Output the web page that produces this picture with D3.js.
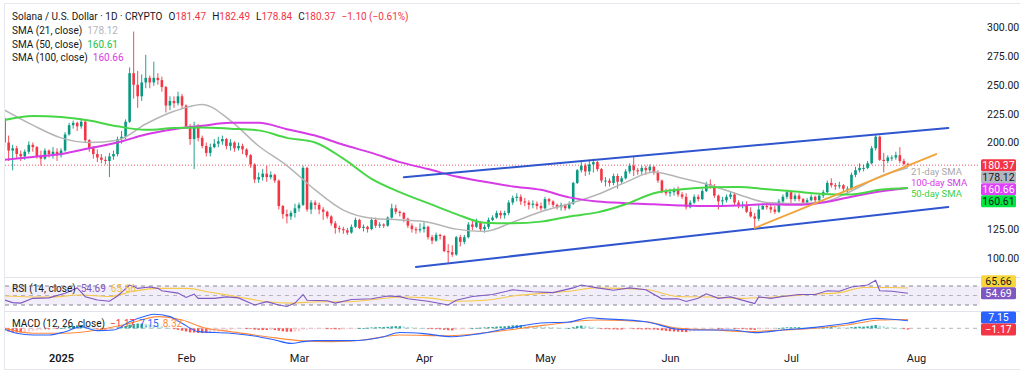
<!DOCTYPE html>
<html>
<head>
<meta charset="utf-8">
<script src="https://cdn.jsdelivr.net/npm/d3@7"></script>
<style>
body { margin: 0; background: #fff; }
svg { display: block; font-family: Roboto, "Noto Sans", sans-serif; }
</style>
</head>
<body>
<div id="chart-area"></div>
<script>
// daily SOL/USD candles, 18 Dec 2024 - 30 Jul 2025 (crypto trades 24/7, so each open is the prior close)
var firstOpen = 221;

var decClose = [200, 193, 195, 190, 188, 192, 198, 196, 188, 186, 193, 190, 192, 189];
var decHigh  = [223, 206, 198, 197, 193, 194, 201, 200, 197, 193, 195, 194, 196, 195];
var decLow   = [196, 184, 176, 186, 184, 185, 190, 192, 186, 180, 185, 187, 186, 184];

var janClose = [193, 207, 215, 217, 214, 218, 202, 195, 190, 187, 185, 184, 188, 190, 203, 205, 218, 260, 250, 240, 252, 256, 252, 256, 254, 248, 232, 236, 234, 240, 232];
var janHigh  = [195, 209, 217, 219, 218, 221, 219, 203, 197, 194, 190, 188, 191, 193, 205, 210, 220, 265, 296, 262, 259, 276, 258, 270, 260, 257, 249, 240, 240, 244, 242];
var janLow   = [187, 192, 206, 212, 210, 212, 200, 192, 186, 183, 182, 181, 170, 185, 188, 199, 203, 217, 238, 230, 236, 247, 247, 249, 250, 244, 226, 228, 230, 232, 229];

var febClose = [214, 203, 214, 204, 197, 191, 196, 199, 201, 203, 197, 200, 195, 197, 194, 189, 181, 168, 170, 173, 170, 172, 167, 145, 138, 136, 139, 143];
var febHigh  = [233, 216, 218, 216, 206, 200, 199, 203, 205, 206, 204, 203, 201, 200, 199, 195, 190, 182, 174, 177, 180, 175, 173, 168, 146, 142, 141, 147];
var febLow   = [212, 198, 177, 201, 195, 188, 188, 195, 196, 198, 194, 193, 192, 193, 190, 187, 178, 165, 165, 167, 166, 168, 165, 142, 134, 130, 133, 135];

var marClose = [146, 178, 142, 148, 146, 142, 140, 136, 130, 126, 125, 124, 122, 127, 133, 126, 127, 125, 133, 128, 129, 128, 135, 143, 140, 139, 134, 128, 125, 124, 125];
var marHigh  = [148, 180, 179, 150, 150, 148, 144, 141, 137, 132, 128, 127, 126, 129, 135, 134, 129, 128, 135, 135, 131, 130, 136, 147, 146, 141, 140, 135, 130, 127, 130];
var marLow   = [140, 145, 140, 138, 142, 138, 133, 134, 128, 121, 122, 121, 120, 121, 126, 125, 123, 122, 124, 126, 126, 126, 127, 134, 138, 136, 131, 126, 122, 121, 122];

var aprClose = [127, 118, 115, 120, 119, 106, 105, 103, 118, 114, 118, 129, 127, 131, 125, 127, 133, 135, 139, 137, 139, 148, 152, 153, 149, 148, 146, 147, 145, 143];
var aprHigh  = [131, 128, 120, 122, 121, 120, 112, 111, 119, 120, 120, 131, 133, 134, 132, 129, 135, 137, 141, 141, 141, 150, 154, 156, 155, 152, 150, 150, 149, 148];
var aprLow   = [122, 116, 112, 114, 116, 105, 96, 101, 102, 110, 112, 117, 124, 126, 123, 122, 125, 132, 134, 134, 134, 137, 146, 149, 146, 145, 142, 143, 142, 141];

var mayClose = [151, 149, 146, 144, 146, 143, 147, 165, 176, 180, 175, 181, 183, 177, 167, 167, 165, 171, 166, 169, 175, 180, 176, 175, 178, 176, 179, 174, 167, 158, 156];
var mayHigh  = [153, 152, 150, 147, 148, 147, 149, 166, 177, 184, 182, 185, 186, 184, 178, 170, 169, 173, 173, 171, 177, 182, 188, 178, 180, 180, 181, 180, 176, 168, 160];
var mayLow   = [142, 146, 144, 142, 141, 141, 142, 146, 164, 174, 171, 172, 174, 175, 165, 162, 162, 163, 160, 164, 168, 173, 171, 172, 172, 172, 174, 172, 165, 156, 154];

var junClose = [157, 159, 155, 153, 144, 148, 153, 151, 158, 164, 162, 154, 149, 150, 153, 155, 148, 146, 146, 140, 136, 134, 142, 145, 144, 142, 140, 149, 153, 157];
var junHigh  = [160, 161, 162, 157, 156, 150, 155, 155, 160, 166, 168, 164, 155, 153, 155, 158, 157, 150, 149, 149, 144, 139, 146, 147, 148, 147, 145, 151, 155, 159];
var junLow   = [153, 154, 153, 151, 142, 143, 147, 149, 150, 157, 160, 152, 142, 145, 148, 151, 146, 143, 143, 139, 135, 126, 132, 142, 142, 139, 138, 139, 147, 151];

var julClose = [151, 154, 151, 148, 150, 153, 150, 154, 157, 165, 163, 162, 163, 160, 160, 172, 176, 178, 178, 182, 195, 205, 185, 184, 187, 187, 189, 184, 181.47, 180.37];
var julHigh  = [158, 156, 156, 152, 152, 155, 154, 155, 159, 167, 169, 165, 166, 164, 162, 174, 179, 182, 181, 184, 197, 206.5, 206, 191, 189, 189, 192, 196, 186, 182.49];
var julLow   = [146, 149, 149, 146, 147, 149, 148, 148, 152, 156, 161, 159, 160, 158, 155, 159, 170, 174, 175, 177, 181, 193, 184, 174, 182, 184, 185, 182, 180, 178.84];

// MACD histogram, one bar per day
var decHist = [-2, -3, -3.5, -4, -4, -3.5, -3, -2.5, -2, -1.5, -1, -1, -0.5, -0.5];
var janHist = [0.2, 0.8, 1.5, 2.2, 2.8, 3.2, 2.5, 1.5, 0.5, -0.5, -1, -1.3, -1.2, -0.5, 0.8, 1.5, 2.2, 3.5, 4.2, 4.5, 4.5, 4.3, 3.8, 3.2, 2.5, 1.8, 0.8, 0, -0.8, -1.5, -2.2];
var febHist = [-3, -3.8, -4, -4.3, -4.5, -4.5, -4.3, -3.8, -3.2, -2.6, -2, -1.5, -1, -0.6, -0.3, -0.3, -0.6, -1.2, -1.5, -1.6, -1.6, -1.5, -1.6, -2.2, -2.8, -3.2, -3.2, -3];
var marHist = [-2.8, -1.5, -1.2, -0.8, -0.5, -0.3, -0.2, -0.3, -0.6, -0.9, -1, -0.9, -0.8, -0.5, -0.2, 0.1, 0.3, 0.5, 0.8, 1, 1.1, 1.2, 1.4, 1.8, 2, 2, 1.8, 1.4, 0.9, 0.6, 0.3];
var aprHist = [0.1, -0.3, -0.7, -0.9, -1, -1.4, -1.8, -2, -1.6, -1.3, -1, -0.5, 0, 0.4, 0.6, 0.8, 1.1, 1.3, 1.6, 1.8, 1.9, 2.3, 2.8, 3, 3, 2.8, 2.5, 2.2, 1.9, 1.6];
var mayHist = [1.4, 1.2, 1, 0.7, 0.5, 0.3, 0.3, 1, 2, 2.5, 2.3, 1.8, 1, 0.5, -0.2, -0.6, -0.9, -1, -1.2, -1.2, -1, -0.8, -0.8, -0.9, -1, -1, -1, -1.2, -1.5, -2, -2.4];
var junHist = [-2.8, -3, -3.2, -3.4, -3.6, -3.2, -2.8, -2.4, -1.8, -1.1, -0.6, -0.5, -0.7, -0.9, -0.8, -0.6, -0.6, -0.7, -0.8, -1, -1.3, -1.5, -1, -0.6, -0.3, -0.2, -0.1, 0.3, 0.6, 0.9];
var julHist = [0.9, 1, 1, 0.8, 0.7, 0.7, 0.6, 0.6, 0.7, 1.1, 1.3, 1.2, 1.1, 0.9, 0.8, 1.1, 1.4, 1.6, 1.6, 1.9, 2.5, 3.1, 2.6, 2, 1.4, 0.9, 0.6, 0, -0.6, -1.17];

// moving averages
var smaDates = ["2024-12-18", "2024-12-25", "2025-01-01", "2025-01-08", "2025-01-15", "2025-01-22", "2025-01-29",
  "2025-02-05", "2025-02-12", "2025-02-19", "2025-02-26", "2025-03-05", "2025-03-12", "2025-03-19", "2025-03-26",
  "2025-04-02", "2025-04-09", "2025-04-16", "2025-04-23", "2025-04-30", "2025-05-07", "2025-05-14", "2025-05-21",
  "2025-05-28", "2025-06-04", "2025-06-11", "2025-06-18", "2025-06-25", "2025-07-02", "2025-07-09", "2025-07-16",
  "2025-07-23", "2025-07-30"];
var sma21 = [228, 215, 204, 200, 202, 216, 227, 233, 219, 197, 180, 159, 141.5, 134.5, 133, 131, 125, 123, 131, 140,
  147, 155, 165.5, 174.5, 169, 163, 155, 148, 147, 148.5, 158, 170.5, 178.12];
var sma50 = [219.5, 223, 222, 219, 214, 211, 212.5, 213, 212, 210.5, 204, 200, 186, 168.5, 157, 147.5, 138, 130.5,
  130, 131.5, 136, 139.5, 146.5, 156, 159.5, 161.2, 161.5, 159.5, 157.5, 155.5, 155, 159, 160.61];
var sma100 = [185, 187.5, 190, 195, 200, 207, 211.5, 214.5, 217, 217, 211.5, 206, 198, 191, 183, 177, 170.5, 166,
  162, 159, 152.5, 149, 147.5, 146.5, 145.5, 145, 145.5, 146.5, 146, 148, 153, 157.5, 160.66];

// RSI (14) and its moving average
var rsiDates = ["2024-12-18", "2024-12-20", "2024-12-22", "2024-12-25", "2024-12-29", "2025-01-02", "2025-01-05",
  "2025-01-07", "2025-01-10", "2025-01-13", "2025-01-15", "2025-01-18", "2025-01-19", "2025-01-20", "2025-01-23",
  "2025-01-25", "2025-01-26", "2025-01-30", "2025-02-01", "2025-02-03", "2025-02-04", "2025-02-08", "2025-02-11",
  "2025-02-14", "2025-02-18", "2025-02-21", "2025-02-24", "2025-02-26", "2025-02-28", "2025-03-02", "2025-03-03",
  "2025-03-08", "2025-03-10", "2025-03-14", "2025-03-19", "2025-03-23", "2025-03-26", "2025-03-28", "2025-04-02",
  "2025-04-07", "2025-04-09", "2025-04-13", "2025-04-18", "2025-04-23", "2025-04-28", "2025-05-03", "2025-05-08",
  "2025-05-10", "2025-05-14", "2025-05-18", "2025-05-22", "2025-05-26", "2025-05-30", "2025-06-03", "2025-06-05",
  "2025-06-08", "2025-06-10", "2025-06-13", "2025-06-16", "2025-06-22", "2025-06-23", "2025-06-26", "2025-06-29",
  "2025-07-03", "2025-07-07", "2025-07-10", "2025-07-13", "2025-07-16", "2025-07-20", "2025-07-22", "2025-07-23",
  "2025-07-26", "2025-07-30"];
var rsiValues = [40.5, 35, 34, 44, 45, 54.6, 65.8, 47.5, 40.5, 38, 49, 72, 69, 65, 68, 65, 60, 55, 46, 53, 44, 44,
  47, 45, 30, 37, 30, 27, 34, 52, 40, 39, 34, 41.5, 43, 49, 47.6, 43, 38, 30, 40, 48, 52, 62, 58, 56, 66, 72, 66,
  61, 66, 62, 43, 43, 37.5, 44, 53.5, 44, 47, 33, 47, 44, 48, 52, 52, 60, 59, 68, 72, 82, 60, 59, 54.69];
var rsiMaDates = ["2024-12-18", "2024-12-29", "2025-01-06", "2025-01-13", "2025-01-19", "2025-01-25", "2025-02-01",
  "2025-02-07", "2025-02-14", "2025-02-21", "2025-02-27", "2025-03-06", "2025-03-13", "2025-03-19", "2025-03-26",
  "2025-04-02", "2025-04-09", "2025-04-16", "2025-04-24", "2025-05-01", "2025-05-08", "2025-05-13", "2025-05-26",
  "2025-06-03", "2025-06-11", "2025-06-19", "2025-06-27", "2025-07-05", "2025-07-13", "2025-07-19", "2025-07-26",
  "2025-07-30"];
var rsiMaValues = [49, 46.5, 51, 48, 59, 65, 65, 57, 47, 37, 34, 37, 37, 41, 47, 45, 38, 40, 50, 55, 60, 66, 62.5,
  48, 47, 44, 47, 52, 56, 67, 67, 65.66];
var rsiLevels = [70, 50, 30];

// MACD (12, 26) and signal
var macdDates = ["2024-12-18", "2024-12-21", "2024-12-25", "2024-12-29", "2025-01-02", "2025-01-06", "2025-01-10",
  "2025-01-14", "2025-01-18", "2025-01-22", "2025-01-24", "2025-01-28", "2025-01-31", "2025-02-04", "2025-02-12",
  "2025-02-19", "2025-02-23", "2025-02-27", "2025-03-02", "2025-03-05", "2025-03-14", "2025-03-22", "2025-03-26",
  "2025-04-01", "2025-04-08", "2025-04-15", "2025-04-22", "2025-04-30", "2025-05-07", "2025-05-12", "2025-05-14",
  "2025-05-26", "2025-06-03", "2025-06-07", "2025-06-16", "2025-06-22", "2025-06-29", "2025-07-07", "2025-07-15",
  "2025-07-22", "2025-07-26", "2025-07-30"];
var macdValues = [-1, -4.7, -6.3, -6.3, -3.2, 1.5, -2.2, -1.6, 6.2, 11.6, 13.2, 11, 4.7, -3.1, -4.7, -7.9, -11,
  -14.2, -12.6, -11.6, -11.6, -7.9, -4, -5, -8, -5, 0, 5, 6, 10, 9.4, 6.2, -0.9, -1.6, -1.6, -4.1, -1.6, 0.9, 4.7,
  9.4, 8.5, 7.15];
var signalDates = ["2024-12-18", "2024-12-25", "2025-01-02", "2025-01-10", "2025-01-18", "2025-01-25", "2025-01-31",
  "2025-02-06", "2025-02-12", "2025-02-21", "2025-03-01", "2025-03-09", "2025-03-17", "2025-03-26", "2025-04-07",
  "2025-04-19", "2025-05-01", "2025-05-14", "2025-05-26", "2025-06-03", "2025-06-12", "2025-06-20", "2025-06-29",
  "2025-07-07", "2025-07-15", "2025-07-23", "2025-07-30"];
var signalValues = [0, -4.7, -4.7, -1.6, 4.7, 11, 7.8, 0, -3.1, -7.9, -11.6, -12.6, -11, -6.3, -7, -3, 3, 7.8, 6.2,
  0, -1.6, -3.1, -1.6, 0, 3.1, 7.8, 8.32];

// drawn trend lines: [start date, start price, end date, end price]
var channelTop = ["2025-03-27", 170, "2025-08-09", 212.6];
var channelBottom = ["2025-03-30", 92.2, "2025-08-09", 144.2];
var supportLine = ["2025-06-22", 126, "2025-08-06", 190];

var priceTicks = [100, 125, 200, 225, 250, 275, 300];
var monthTicks = ["2025-01-01", "2025-02-01", "2025-03-01", "2025-04-01", "2025-05-01", "2025-06-01", "2025-07-01", "2025-08-01"];
var monthLabels = ["2025", "Feb", "Mar", "Apr", "May", "Jun", "Jul", "Aug"];

var months = [
  {start: "2024-12-18", close: decClose, high: decHigh, low: decLow, hist: decHist},
  {start: "2025-01-01", close: janClose, high: janHigh, low: janLow, hist: janHist},
  {start: "2025-02-01", close: febClose, high: febHigh, low: febLow, hist: febHist},
  {start: "2025-03-01", close: marClose, high: marHigh, low: marLow, hist: marHist},
  {start: "2025-04-01", close: aprClose, high: aprHigh, low: aprLow, hist: aprHist},
  {start: "2025-05-01", close: mayClose, high: mayHigh, low: mayLow, hist: mayHist},
  {start: "2025-06-01", close: junClose, high: junHigh, low: junLow, hist: junHist},
  {start: "2025-07-01", close: julClose, high: julHigh, low: julLow, hist: julHist}
];

var parse = function(s) { return new Date(s + "T00:00:00Z"); };

var candles = [];
var prev = firstOpen;
months.forEach(function(m) {
  var d0 = parse(m.start);
  m.close.forEach(function(c, i) {
    candles.push({
      date: new Date(d0.getTime() + i * 864e5),
      open: prev,
      high: Math.max(m.high[i], prev, c),
      low: Math.min(m.low[i], prev, c),
      close: c,
      hist: m.hist[i]
    });
    prev = c;
  });
});
var last = candles[candles.length - 1];
var prevClose = candles[candles.length - 2].close;

var toPoints = function(dates, values) {
  return dates.map(function(d, i) { return {date: parse(d), value: values[i]}; });
};

var svg = d3.select("#chart-area")
  .append("svg")
  .attr("width", 1024)
  .attr("height", 377);

var upColor = "#089981";
var downColor = "#f23645";
var textColor = "#131722";
var labelSize = "10px";

var x = d3.scaleUtc()
  .domain([parse("2024-12-18"), parse("2025-08-01")])
  .range([4.6, 916]);
var y = d3.scaleLinear().domain([100, 300]).range([258, 27]);
var yRsi = d3.scaleLinear().domain([30, 70]).range([305, 286]);
var yMacd = d3.scaleLinear().domain([0, 10]).range([328.3, 317.7]);

// frame and pane separators
svg.append("line").attr("x1", 4).attr("x2", 1020).attr("y1", 3.5).attr("y2", 3.5).attr("stroke", "#e6e8ee");
svg.append("line").attr("x1", 4).attr("x2", 1020).attr("y1", 369.5).attr("y2", 369.5).attr("stroke", "#e6e8ee");
svg.append("line").attr("x1", 4.5).attr("x2", 4.5).attr("y1", 3).attr("y2", 370).attr("stroke", "#e6e8ee");
[277.5, 311.5].forEach(function(py) {
  svg.append("line").attr("x1", 4).attr("x2", 1020).attr("y1", py).attr("y2", py).attr("stroke", "#e0e3eb");
});

svg.append("clipPath").attr("id", "main-clip")
  .append("rect").attr("x", 5).attr("y", 4).attr("width", 975).attr("height", 273);
svg.append("clipPath").attr("id", "rsi-clip")
  .append("rect").attr("x", 5).attr("y", 278).attr("width", 975).attr("height", 33);
svg.append("clipPath").attr("id", "macd-clip")
  .append("rect").attr("x", 5).attr("y", 312).attr("width", 975).attr("height", 36);

var main = svg.append("g").attr("clip-path", "url(#main-clip)");

// last price dotted line
main.append("line")
  .attr("x1", 5).attr("x2", 980)
  .attr("y1", y(last.close)).attr("y2", y(last.close))
  .attr("stroke", downColor).attr("stroke-width", 1)
  .attr("stroke-dasharray", "1,2").attr("opacity", 0.8);

// candles
var bodyW = 2.6;
var candle = main.selectAll(".candle").data(candles).enter()
  .append("g").attr("class", "candle");
candle.append("line")
  .attr("x1", function(d) { return x(d.date); })
  .attr("x2", function(d) { return x(d.date); })
  .attr("y1", function(d) { return y(d.high); })
  .attr("y2", function(d) { return y(d.low); })
  .attr("stroke", function(d) { return d.close >= d.open ? upColor : downColor; })
  .attr("stroke-width", 0.9);
candle.append("rect")
  .attr("x", function(d) { return x(d.date) - bodyW / 2; })
  .attr("width", bodyW)
  .attr("y", function(d) { return y(Math.max(d.open, d.close)); })
  .attr("height", function(d) { return Math.max(1, Math.abs(y(d.open) - y(d.close))); })
  .attr("fill", function(d) { return d.close >= d.open ? upColor : downColor; });

// moving averages
var smooth = d3.line()
  .x(function(d) { return x(d.date); })
  .y(function(d) { return y(d.value); })
  .curve(d3.curveMonotoneX);
var smaSeries = [
  {values: sma21, color: "#b5b5b5", width: 1.5},
  {values: sma100, color: "#d63be6", width: 2},
  {values: sma50, color: "#46d646", width: 2}
];
smaSeries.forEach(function(s) {
  main.append("path")
    .datum(toPoints(smaDates, s.values))
    .attr("d", smooth)
    .attr("fill", "none")
    .attr("stroke", s.color)
    .attr("stroke-width", s.width);
});

// trend lines
var trendLines = [
  {line: channelTop, color: "#2f55cf", width: 2},
  {line: channelBottom, color: "#2f55cf", width: 2},
  {line: supportLine, color: "#f2a33a", width: 1.8}
];
trendLines.forEach(function(t) {
  svg.append("line")
    .attr("x1", x(parse(t.line[0]))).attr("y1", y(t.line[1]))
    .attr("x2", x(parse(t.line[2]))).attr("y2", y(t.line[3]))
    .attr("stroke", t.color).attr("stroke-width", t.width)
    .attr("stroke-linecap", "round");
});

// SMA annotations
var smaNotes = [
  {text: "21-day SMA", color: "#a8a8a8", py: 175},
  {text: "100-day SMA", color: "#d63be6", py: 186},
  {text: "50-day SMA", color: "#3fcf3f", py: 197}
];
smaNotes.forEach(function(n) {
  svg.append("text").attr("x", 911).attr("y", n.py)
    .attr("font-size", "9.5px").attr("fill", n.color).text(n.text);
});

// right price axis
var yAxis = d3.axisRight(y)
  .tickValues(priceTicks)
  .tickFormat(d3.format(".2f"))
  .tickSize(0)
  .tickPadding(0);
var yAxisGroup = svg.append("g")
  .attr("class", "y-axis")
  .attr("transform", "translate(987,0)")
  .call(yAxis);
yAxisGroup.select(".domain").remove();
yAxisGroup.selectAll("text")
  .attr("font-size", "10.5px")
  .attr("font-family", "Roboto, sans-serif")
  .attr("fill", textColor);

// value tags on the right edge
function drawTags(tags, scale, direction) {
  var placed = tags.map(function(t) { return Object.assign({py: scale(t.value)}, t); });
  if (direction === "down") {
    for (var i = 1; i < placed.length; i++) {
      placed[i].py = Math.max(placed[i].py, placed[i - 1].py + 12);
    }
  } else {
    for (var j = placed.length - 2; j >= 0; j--) {
      placed[j].py = Math.min(placed[j].py, placed[j + 1].py - 12);
    }
  }
  placed.forEach(function(t) {
    svg.append("rect")
      .attr("x", 981).attr("y", t.py - 6).attr("width", 35).attr("height", 12)
      .attr("rx", 1.5).attr("fill", t.bg);
    svg.append("text")
      .attr("x", 998.5).attr("y", t.py + 3.8)
      .attr("text-anchor", "middle")
      .attr("font-size", "10.5px").attr("fill", t.fg)
      .text(d3.format(".2f")(t.value));
  });
}
drawTags([
  {value: last.close, bg: "#f23645", fg: "#ffffff"},
  {value: sma21[sma21.length - 1], bg: "#b2b5be", fg: textColor},
  {value: sma100[sma100.length - 1], bg: "#e040fb", fg: "#ffffff"},
  {value: sma50[sma50.length - 1], bg: "#00e640", fg: textColor}
], y, "down");

// RSI pane
var rsiPane = svg.append("g").attr("clip-path", "url(#rsi-clip)");
rsiPane.append("rect")
  .attr("x", 5).attr("width", 975)
  .attr("y", yRsi(70)).attr("height", yRsi(30) - yRsi(70))
  .attr("fill", "#7e57c2").attr("opacity", 0.1);
rsiLevels.forEach(function(lv) {
  rsiPane.append("line")
    .attr("x1", 5).attr("x2", 980)
    .attr("y1", yRsi(lv)).attr("y2", yRsi(lv))
    .attr("stroke", "#787b86").attr("stroke-width", 1)
    .attr("stroke-dasharray", "4,4")
    .attr("opacity", lv === 50 ? 0.5 : 0.9);
});
rsiPane.append("path")
  .datum(toPoints(rsiMaDates, rsiMaValues))
  .attr("d", d3.line()
    .x(function(d) { return x(d.date); })
    .y(function(d) { return yRsi(d.value); })
    .curve(d3.curveMonotoneX))
  .attr("fill", "none").attr("stroke", "#f7c84a").attr("stroke-width", 1.1);
rsiPane.append("path")
  .datum(toPoints(rsiDates, rsiValues))
  .attr("d", d3.line()
    .x(function(d) { return x(d.date); })
    .y(function(d) { return yRsi(d.value); }))
  .attr("fill", "none").attr("stroke", "#7e57c2").attr("stroke-width", 1.1);

drawTags([
  {value: rsiMaValues[rsiMaValues.length - 1], bg: "#fbd63a", fg: textColor},
  {value: rsiValues[rsiValues.length - 1], bg: "#7e57c2", fg: "#ffffff"}
], yRsi, "up");

// MACD pane
var macdPane = svg.append("g").attr("clip-path", "url(#macd-clip)");
macdPane.append("line")
  .attr("x1", 5).attr("x2", 980)
  .attr("y1", yMacd(0)).attr("y2", yMacd(0))
  .attr("stroke", "#9598a1").attr("stroke-width", 1)
  .attr("stroke-dasharray", "4,4").attr("opacity", 0.7);
macdPane.selectAll(".hist").data(candles).enter()
  .append("rect")
  .attr("class", "hist")
  .attr("x", function(d) { return x(d.date) - 1.2; })
  .attr("width", 2.4)
  .attr("y", function(d) { return Math.min(yMacd(d.hist), yMacd(0)); })
  .attr("height", function(d) { return Math.max(0.8, Math.abs(yMacd(d.hist) - yMacd(0))); })
  .attr("fill", function(d, i) {
    var before = i > 0 ? candles[i - 1].hist : d.hist;
    if (d.hist >= 0) return d.hist >= before ? "#26a69a" : "#b2dfdb";
    return d.hist <= before ? "#ff5252" : "#ffcdd2";
  });
var macdLine = d3.line()
  .x(function(d) { return x(d.date); })
  .y(function(d) { return yMacd(d.value); })
  .curve(d3.curveMonotoneX);
macdPane.append("path")
  .datum(toPoints(signalDates, signalValues))
  .attr("d", macdLine)
  .attr("fill", "none").attr("stroke", "#ff8a3d").attr("stroke-width", 1.1);
macdPane.append("path")
  .datum(toPoints(macdDates, macdValues))
  .attr("d", macdLine)
  .attr("fill", "none").attr("stroke", "#2962ff").attr("stroke-width", 1.1);

drawTags([
  {value: macdValues[macdValues.length - 1], bg: "#2962ff", fg: "#ffffff"},
  {value: last.hist, bg: "#f23645", fg: "#ffffff"}
], yMacd, "up");

// time axis
var xAxis = d3.axisBottom(x)
  .tickValues(monthTicks.map(parse))
  .tickFormat(function(d, i) { return monthLabels[i]; })
  .tickSize(0)
  .tickPadding(4);
var xAxisGroup = svg.append("g")
  .attr("class", "x-axis")
  .attr("transform", "translate(0,350)")
  .call(xAxis);
xAxisGroup.select(".domain").remove();
xAxisGroup.selectAll("text")
  .attr("font-size", "11px")
  .attr("font-family", "Roboto, sans-serif")
  .attr("fill", textColor)
  .attr("font-weight", function(d, i) { return i === 0 ? 600 : 400; });

// legends
var fmt = d3.format(".2f");
var head = svg.append("text").attr("x", 12).attr("y", 19.5).attr("font-size", labelSize).attr("fill", textColor);
head.append("tspan").text("Solana / U.S. Dollar · 1D · CRYPTO");
var ohlc = [["O", last.open], ["H", last.high], ["L", last.low], ["C", last.close]];
ohlc.forEach(function(o) {
  head.append("tspan").attr("dx", 6).text(o[0]);
  head.append("tspan").attr("fill", downColor).text(fmt(o[1]));
});
var change = last.close - prevClose;
head.append("tspan").attr("dx", 6).attr("fill", downColor)
  .text("−" + fmt(Math.abs(change)) + " (−" + fmt(Math.abs(change / prevClose * 100)) + "%)");

var smaLegend = [
  {label: "SMA (21, close)", value: sma21[sma21.length - 1], color: "#b2b5be", py: 34},
  {label: "SMA (50, close)", value: sma50[sma50.length - 1], color: "#22c43c", py: 47.5},
  {label: "SMA (100, close)", value: sma100[sma100.length - 1], color: "#d63be6", py: 61}
];
smaLegend.forEach(function(s) {
  var t = svg.append("text").attr("x", 12).attr("y", s.py).attr("font-size", labelSize).attr("fill", textColor);
  t.append("tspan").text(s.label);
  t.append("tspan").attr("dx", 5).attr("fill", s.color).text(fmt(s.value));
});

var rsiLegend = svg.append("text").attr("x", 12).attr("y", 292).attr("font-size", labelSize).attr("fill", textColor);
rsiLegend.append("tspan").text("RSI (14, close)");
rsiLegend.append("tspan").attr("dx", 5).attr("fill", "#7e57c2").text(fmt(rsiValues[rsiValues.length - 1]));
rsiLegend.append("tspan").attr("dx", 5).attr("fill", "#f2c23a").text(fmt(rsiMaValues[rsiMaValues.length - 1]));

var macdLegend = svg.append("text").attr("x", 12).attr("y", 327).attr("font-size", labelSize).attr("fill", textColor);
macdLegend.append("tspan").text("MACD (12, 26, close)");
macdLegend.append("tspan").attr("dx", 5).attr("fill", downColor).text("−" + fmt(Math.abs(last.hist)));
macdLegend.append("tspan").attr("dx", 4).attr("fill", "#2962ff").text(fmt(macdValues[macdValues.length - 1]));
macdLegend.append("tspan").attr("dx", 4).attr("fill", "#ff8a3d").text(fmt(signalValues[signalValues.length - 1]));
</script>
</body>
</html>
